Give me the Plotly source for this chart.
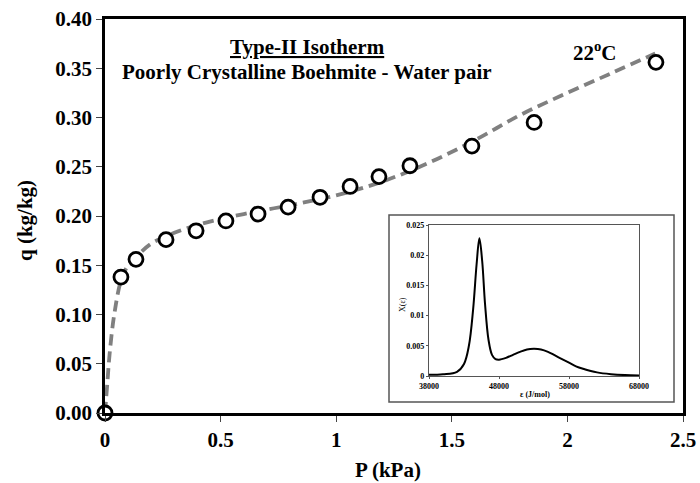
import plotly.graph_objects as go

# Experimental data (open circles)
p_data = [0.0, 0.069, 0.134, 0.264, 0.394, 0.523, 0.662, 0.792, 0.930, 1.060, 1.185, 1.319, 1.587, 1.856, 2.383]
q_data = [0.0, 0.138, 0.156, 0.176, 0.185, 0.195, 0.202, 0.209, 0.219, 0.230, 0.240, 0.251, 0.271, 0.295, 0.356]

# Model fit (dashed curve)
p_fit = [0.0, 0.01, 0.02, 0.04, 0.07, 0.1, 0.15, 0.2, 0.3, 0.4, 0.5, 0.6, 0.8, 1.0, 1.2, 1.4, 1.6, 1.8, 2.0, 2.2, 2.38]
q_fit = [0.0, 0.03, 0.06, 0.10, 0.135, 0.15, 0.162, 0.172, 0.183, 0.191, 0.197, 0.202, 0.211, 0.221, 0.235, 0.254, 0.277, 0.303, 0.325, 0.346, 0.365]

# Inset: energy distribution
eps = [38000, 40000, 42000, 43000, 43700, 44300, 44800, 45200, 45600, 46000, 46500, 47000, 47500, 48000,
       49000, 50000, 51000, 52000, 53000, 54000, 55000, 56000, 57000, 58000, 59000, 60000, 62000, 64000, 66000, 68000]
x_eps = [0.0002, 0.0003, 0.0007, 0.0020, 0.0050, 0.0110, 0.0185, 0.0228, 0.0190, 0.0120, 0.0060, 0.0035, 0.0028, 0.0027,
         0.0030, 0.0035, 0.0040, 0.0044, 0.0045, 0.0044, 0.0040, 0.0034, 0.0028, 0.0022, 0.0016, 0.0012, 0.0006, 0.0003, 0.00015, 0.0001]

x_ticks = [0, 0.5, 1, 1.5, 2, 2.5]
x_tick_text = ["0", "0.5", "1", "1.5", "2", "2.5"]
y_ticks = [0, 0.05, 0.10, 0.15, 0.20, 0.25, 0.30, 0.35, 0.40]
inset_x_ticks = [38000, 48000, 58000, 68000]
inset_x_text = ["38000", "48000", "58000", "68000"]
inset_y_ticks = [0, 0.005, 0.01, 0.015, 0.02, 0.025]
inset_y_text = ["0", "0.005", "0.01", "0.015", "0.02", "0.025"]

FONT = "Liberation Serif"
L, R, T, B = 105, 17, 19, 70
PW, PH = 700 - L - R, 483 - T - B


def px(x):
    return (x - L) / PW


def py(y):
    return (483 - B - y) / PH


fig = go.Figure()
fig.add_trace(go.Scatter(x=p_fit, y=q_fit, mode="lines", line=dict(color="#808080", width=3.8, dash="11px,6px"),
                         line_shape="spline", showlegend=False, cliponaxis=False))
fig.add_trace(go.Scatter(x=p_data, y=q_data, mode="markers",
                         marker=dict(symbol="circle", size=14, color="white", line=dict(color="black", width=2.8)),
                         showlegend=False, cliponaxis=False))
fig.add_trace(go.Scatter(x=eps, y=x_eps, mode="lines", line=dict(color="black", width=2), line_shape="spline",
                         xaxis="x2", yaxis="y2", showlegend=False))

fig.update_layout(
    width=700, height=483,
    margin=dict(l=L, r=R, t=T, b=B),
    paper_bgcolor="white", plot_bgcolor="white",
    font=dict(family=FONT, color="black"),
    xaxis=dict(range=[0, 2.5], tickvals=x_ticks, ticktext=x_tick_text, automargin=False,
               showgrid=False, zeroline=False, showline=True, linecolor="black", linewidth=2.5, mirror=True,
               ticks="outside", ticklen=6, tickwidth=1, tickcolor="#444444",
               tickfont=dict(family=FONT, size=21, color="black", weight="bold")),
    yaxis=dict(range=[0, 0.4], tickvals=y_ticks, tickformat=".2f", automargin=False,
               showgrid=False, zeroline=False, showline=True, linecolor="black", linewidth=2.5, mirror=True,
               ticks="outside", ticklen=6, tickwidth=1, tickcolor="#444444",
               tickfont=dict(family=FONT, size=21, color="black", weight="bold")),
    xaxis2=dict(domain=[px(429), px(639)], anchor="y2", range=[38000, 68000], tickvals=inset_x_ticks,
                ticktext=inset_x_text, automargin=False,
                showgrid=False, zeroline=False, showline=True, linecolor="#555555", linewidth=1.2, mirror=True,
                ticks="outside", ticklen=2, tickcolor="#555555",
                tickfont=dict(family=FONT, size=8, color="black", weight="bold")),
    yaxis2=dict(domain=[py(376), py(225)], anchor="x2", range=[0, 0.025], tickvals=inset_y_ticks,
                ticktext=inset_y_text, automargin=False,
                showgrid=False, zeroline=False, showline=True, linecolor="#555555", linewidth=1.2, mirror=True,
                ticks="outside", ticklen=2, tickcolor="#555555",
                tickfont=dict(family=FONT, size=8, color="black", weight="bold")),
    shapes=[dict(type="rect", xref="paper", yref="paper", x0=px(389), x1=px(674), y0=py(402), y1=py(215),
                 line=dict(color="#555555", width=1.5), fillcolor="rgba(0,0,0,0)", layer="below")],
    annotations=[
        dict(text="<b><u>Type-II Isotherm</u></b>", xref="paper", yref="paper", x=px(307), y=py(47),
             showarrow=False, font=dict(family=FONT, size=21), xanchor="center", yanchor="middle"),
        dict(text="<b>Poorly Crystalline Boehmite - Water pair</b>", xref="paper", yref="paper",
             x=px(307), y=py(72), showarrow=False, font=dict(family=FONT, size=21),
             xanchor="center", yanchor="middle"),
        dict(text="<b>22<sup>o</sup>C</b>", xref="paper", yref="paper", x=px(595), y=py(52),
             showarrow=False, font=dict(family=FONT, size=21), xanchor="center", yanchor="middle"),
        dict(text="<b>P (kPa)</b>", xref="paper", yref="paper", x=px(388), y=py(470),
             showarrow=False, font=dict(family=FONT, size=21), xanchor="center", yanchor="middle"),
        dict(text="<b>q (kg/kg)</b>", xref="paper", yref="paper", x=px(25), y=py(221), textangle=-90,
             showarrow=False, font=dict(family=FONT, size=21), xanchor="center", yanchor="middle"),
        dict(text="<b>ε (J/mol)</b>", xref="paper", yref="paper", x=px(535), y=py(394),
             showarrow=False, font=dict(family=FONT, size=8), xanchor="center", yanchor="middle"),
        dict(text="X(ε)", xref="paper", yref="paper", x=px(402), y=py(305), textangle=-90,
             showarrow=False, font=dict(family=FONT, size=8), xanchor="center", yanchor="middle"),
    ],
)

fig.write_html("out.html")
